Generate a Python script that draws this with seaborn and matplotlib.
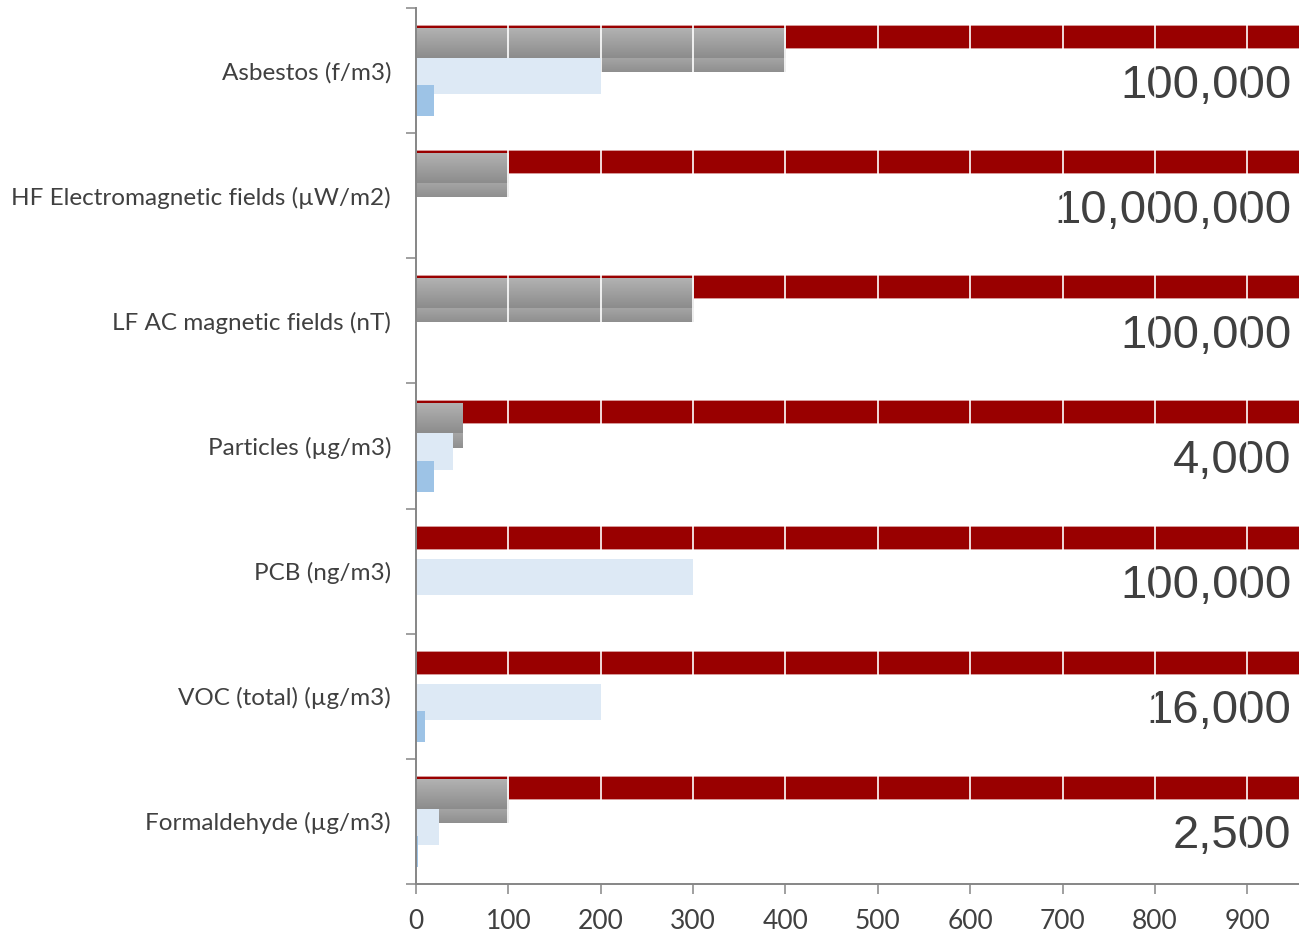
import numpy as np
import pandas as pd
import matplotlib
matplotlib.use("Agg")
import matplotlib.pyplot as plt
import seaborn as sns

# Pollutant categories and the values for each series
categories = [
    "Asbestos (f/m3)",
    "HF Electromagnetic fields (\u00b5W/m2)",
    "LF AC magnetic fields (nT)",
    "Particles (\u00b5g/m3)",
    "PCB (ng/m3)",
    "VOC (total) (\u00b5g/m3)",
    "Formaldehyde (\u00b5g/m3)",
]
upper_limit = [100000, 10000000, 100000, 4000, 100000, 16000, 2500]
upper_labels = ["100,000", "10,000,000", "100,000", "4,000", "100,000", "16,000", "2,500"]
guide_a = [400, 100, 300, 50, 0, 0, 100]
guide_b = [400, 100, 300, 50, 0, 0, 100]
target = [200, 0, 0, 40, 300, 200, 25]
measured = [20, 0, 0, 20, 0, 10, 2]
x_ticks = [0, 100, 200, 300, 400, 500, 600, 700, 800, 900]

sns.set_theme(style="white")
plt.rcParams["font.family"] = ["Lato", "DejaVu Sans"]

fig = plt.figure(figsize=(12.99, 9.33), dpi=100)
ax = fig.add_axes([416 / 1299, 1 - 884 / 933, 1 - 416 / 1299, (884 - 8) / 933])

text_col = "#404040"
axis_col = "#868686"

# series: values, colour, bar thickness, offset of bar centre inside its band, z-order
series = [
    (upper_limit, "#990000", 0.184, -0.272, 2),
    (guide_b, "#959595", 0.112, -0.044, 3),
    (guide_a, "#a0a0a0", 0.232, -0.216, 4),
    (target, "#dde9f5", 0.288, 0.044, 6),
    (measured, "#9dc3e6", 0.248, 0.240, 7),
]
gradients = {1: ("#a6a6a6", "#8f8f8f"), 2: ("#b2b2b2", "#8c8c8c")}

for idx, (vals, col, h, off, z) in enumerate(series):
    df = pd.DataFrame({"cat": categories, "val": vals})
    before = len(ax.patches)
    edge = "#d9a0a0" if idx == 0 else "none"
    sns.barplot(data=df, x="val", y="cat", orient="h", color=col, width=h,
                saturation=1, ax=ax, zorder=z, edgecolor=edge, linewidth=0.6)
    new = ax.patches[before:]
    for p in new:
        p.set_y(p.get_y() + off)
        p.set_zorder(z)
        if idx in gradients and p.get_width() > 0:
            c0 = np.array(matplotlib.colors.to_rgb(gradients[idx][0]))
            c1 = np.array(matplotlib.colors.to_rgb(gradients[idx][1]))
            t = np.linspace(0, 1, 64)[:, None]
            img = (c0 * (1 - t) + c1 * t)[:, None, :]
            x0, y0 = p.get_x(), p.get_y()
            ax.imshow(img, extent=[x0, x0 + p.get_width(), y0 + p.get_height(), y0],
                      aspect="auto", zorder=z + 0.1, interpolation="bilinear")

ax.set_xlim(0, 956)
ax.set_ylim(len(categories) - 0.5, -0.5)
ax.set_aspect("auto")

# white grid lines over the bars and value labels
for xv in x_ticks[1:]:
    ax.axvline(xv, color="white", lw=1.2, zorder=5.5)

# big value labels for the upper limit series
for i, lab in enumerate(upper_labels):
    ax.text(948, i + 0.12, lab, ha="right", va="center", fontsize=34,
            color=text_col, family=["Liberation Sans", "DejaVu Sans"], zorder=5)

ax.set_xticks(x_ticks)
ax.set_xticklabels([str(v) for v in x_ticks])
ax.set_yticks(range(len(categories)))
ax.set_yticklabels(categories)
ax.set_yticks(np.arange(-0.5, len(categories), 1.0), minor=True)
ax.set_xlabel("")
ax.set_ylabel("")

ax.tick_params(axis="y", which="major", length=0, pad=18, labelsize=17.5, labelcolor=text_col)
ax.tick_params(axis="y", which="minor", length=7, width=1.1, color=axis_col, direction="out", left=True)
ax.tick_params(axis="x", which="major", length=7, width=1.1, color=axis_col, direction="out",
               bottom=True, pad=11, labelsize=19, labelcolor=text_col)

for s in ["top", "right"]:
    ax.spines[s].set_visible(False)
for s in ["left", "bottom"]:
    ax.spines[s].set_color(axis_col)
    ax.spines[s].set_linewidth(1.4)
    ax.spines[s].set_zorder(10)

fig.savefig("out.png", dpi=100)
